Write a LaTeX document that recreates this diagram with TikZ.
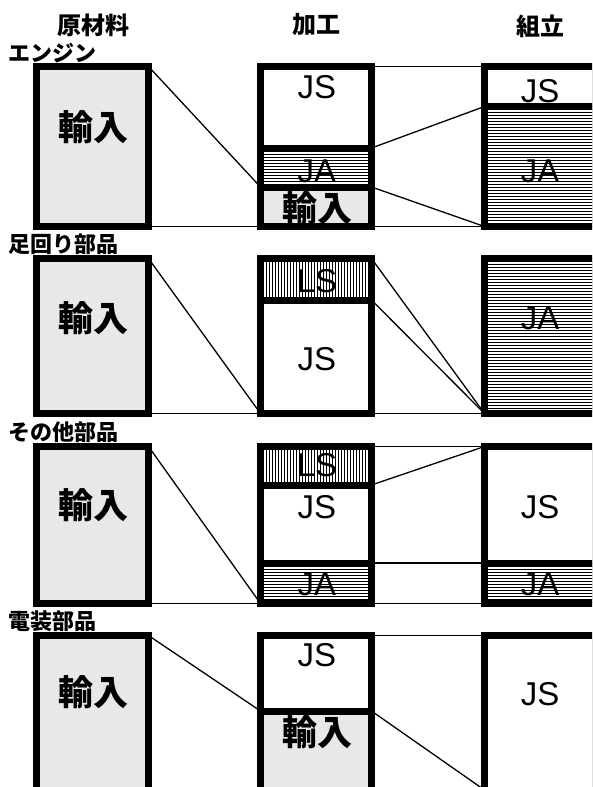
\documentclass[tikz,border=0pt]{standalone}
\usepackage{fontspec}
\setmainfont{Liberation Sans}
\newfontfamily\jpfont{Noto Sans CJK JP}

\tikzset{
  frame/.style={draw=black, line width=7pt},
  link/.style={draw=black, line width=1.3pt},
  imp/.style={fill=black!9},
  rule/.style={draw=black, line width=1pt},
  lat/.style={font=\fontsize{33}{33}\selectfont, inner sep=0pt},
  kanji/.style={font=\jpfont\bfseries\fontsize{35}{35}\selectfont, inner sep=0pt},
  head/.style={font=\jpfont\bfseries\fontsize{24}{24}\selectfont, inner sep=0pt},
  cat/.style={font=\jpfont\bfseries\fontsize{22}{22}\selectfont, inner sep=0pt, anchor=south west},
}

% horizontal hatching (JA) inside a rectangle, 3pt pitch
\newcommand\hhatch[4]{%
  \begin{scope}
    \clip (#1,#2) rectangle (#3,#4);
    \foreach \k in {0,...,70}
      \draw[rule] (#1,{floor(#2)+0.5+3*\k}) -- (#3,{floor(#2)+0.5+3*\k});
  \end{scope}}
% vertical hatching (LS) inside a rectangle, 3pt pitch
\newcommand\vhatch[4]{%
  \begin{scope}
    \clip (#1,#2) rectangle (#3,#4);
    \foreach \k in {0,...,40}
      \draw[rule] ({floor(#1)+0.5+3*\k},#2) -- ({floor(#1)+0.5+3*\k},#4);
  \end{scope}}

\begin{document}
\begin{tikzpicture}[x=1pt,y=-1pt]
\useasboundingbox (0,0) rectangle (592,787);
\clip (0,0) rectangle (592,787);
\fill[white] (0,0) rectangle (592,787);

% ---------- column headings ----------
\node[head] (h1) at (93,25) {原材料};
\node[head] (h2) at (316,25) {加工};
\node[head] (h3) at (540,26) {組立};

% ---------- category labels ----------
\node[cat] (g1) at (8,63) {エンジン};
\node[cat] (g2) at (8,255) {足回り部品};
\node[cat] (g3) at (8,443) {その他部品};
\node[cat] (g4) at (8,632) {電装部品};

% ---------- fills ----------
% engine
\fill[imp] (36.5,66.5) rectangle (148.5,226.5);
\hhatch{260.5}{148}{371.5}{187}
\fill[imp] (260.5,187) rectangle (371.5,226.5);
\hhatch{484.5}{106.5}{595.5}{226.5}
% chassis parts
\fill[imp] (36.5,258.5) rectangle (148.5,413.5);
\vhatch{260.5}{258.5}{371.5}{300}
\hhatch{484.5}{258.5}{595.5}{413.5}
% other parts
\fill[imp] (36.5,446.5) rectangle (148.5,603.5);
\vhatch{260.5}{446.5}{371.5}{485}
\hhatch{260.5}{563}{371.5}{603.5}
\hhatch{484.5}{563}{595.5}{603.5}
% electrical parts
\fill[imp] (36.5,635.5) rectangle (148.5,800);
\fill[imp] (260.5,711) rectangle (371.5,800);

% ---------- share boundaries ----------
% engine
\coordinate (a1t) at (148.5,66.5);  \coordinate (a1b) at (148.5,226.5);
\coordinate (b1m) at (260.5,187);   \coordinate (b1b) at (260.5,226.5);
\coordinate (c1t) at (371.5,66.5);  \coordinate (c1u) at (371.5,148);  \coordinate (c1m) at (371.5,187);  \coordinate (c1b) at (371.5,226.5);
\coordinate (d1t) at (484.5,66.5);  \coordinate (d1u) at (484.5,106.5); \coordinate (d1b) at (484.5,226.5);
\draw[link] (a1t) -- (b1m);
\draw[link] (a1b) -- (b1b);
\draw[link] (c1t) -- (d1t);
\draw[link] (c1u) -- (d1u);
\draw[link] (c1m) -- (d1b);
\draw[link] (c1b) -- (d1b);
% chassis parts
\coordinate (a2t) at (148.5,258.5); \coordinate (a2b) at (148.5,413.5);
\coordinate (b2b) at (260.5,413.5);
\coordinate (c2t) at (371.5,258.5); \coordinate (c2u) at (371.5,300);  \coordinate (c2b) at (371.5,413.5);
\coordinate (d2b) at (484.5,413.5);
\draw[link] (a2t) -- (b2b);
\draw[link] (a2b) -- (b2b);
\draw[link] (c2t) -- (d2b);
\draw[link] (c2u) -- (d2b);
\draw[link] (c2b) -- (d2b);
% other parts
\coordinate (a3t) at (148.5,446.5); \coordinate (a3b) at (148.5,603.5);
\coordinate (b3b) at (260.5,603.5);
\coordinate (c3t) at (371.5,446.5); \coordinate (c3u) at (371.5,485);  \coordinate (c3m) at (371.5,563);  \coordinate (c3b) at (371.5,603.5);
\coordinate (d3t) at (484.5,446.5); \coordinate (d3m) at (484.5,563);  \coordinate (d3b) at (484.5,603.5);
\draw[link] (a3t) -- (b3b);
\draw[link] (a3b) -- (b3b);
\draw[link] (c3t) -- (d3t);
\draw[link] (c3u) -- (d3t);
\draw[link] (c3m) -- (d3m);
\draw[link] (c3b) -- (d3b);
% electrical parts
\coordinate (a4t) at (148.5,635.5);
\coordinate (b4m) at (260.5,711);
\coordinate (c4t) at (371.5,635.5); \coordinate (c4m) at (371.5,711);
\coordinate (d4t) at (484.5,635.5); \coordinate (d4b) at (484.5,790);
\draw[link] (a4t) -- (b4m);
\draw[link] (c4t) -- (d4t);
\draw[link] (c4m) -- (d4b);

% ---------- frames ----------
% engine
\draw[frame] (36.5,66.5) rectangle (148.5,226.5);
\draw[frame] (260.5,66.5) rectangle (371.5,226.5);
\draw[frame] (260.5,148) -- (371.5,148);
\draw[frame] (260.5,187) -- (371.5,187);
\draw[frame] (484.5,66.5) rectangle (595.5,226.5);
\draw[frame] (484.5,106.5) -- (595.5,106.5);
% chassis parts
\draw[frame] (36.5,258.5) rectangle (148.5,413.5);
\draw[frame] (260.5,258.5) rectangle (371.5,413.5);
\draw[frame] (260.5,300) -- (371.5,300);
\draw[frame] (484.5,258.5) rectangle (595.5,413.5);
% other parts
\draw[frame] (36.5,446.5) rectangle (148.5,603.5);
\draw[frame] (260.5,446.5) rectangle (371.5,603.5);
\draw[frame] (260.5,485) -- (371.5,485);
\draw[frame] (260.5,563) -- (371.5,563);
\draw[frame] (484.5,446.5) rectangle (595.5,603.5);
\draw[frame] (484.5,563) -- (595.5,563);
% electrical parts
\draw[frame] (36.5,635.5) rectangle (148.5,800);
\draw[frame] (260.5,635.5) rectangle (371.5,800);
\draw[frame] (260.5,711) -- (371.5,711);
\draw[frame] (484.5,635.5) rectangle (595.5,800);

% ---------- segment labels ----------
% engine
\node[kanji] (t11) at (93,127) {輸入};
\node[lat]   (t12) at (317,87) {JS};
\node[lat]   (t13) at (317,171) {JA};
\node[kanji] (t14) at (317,208) {輸入};
\node[lat]   (t15) at (540,91) {JS};
\node[lat]   (t16) at (540,171) {JA};
% chassis parts
\node[kanji] (t21) at (93,318) {輸入};
\node[lat]   (t22) at (317,281) {LS};
\node[lat]   (t23) at (317,359) {JS};
\node[lat]   (t24) at (540,318) {JA};
% other parts
\node[kanji] (t31) at (93,505) {輸入};
\node[lat]   (t32) at (317,465) {LS};
\node[lat]   (t33) at (317,507) {JS};
\node[lat]   (t34) at (317,584) {JA};
\node[lat]   (t35) at (540,507) {JS};
\node[lat]   (t36) at (540,584) {JA};
% electrical parts
\node[kanji] (t41) at (93,692) {輸入};
\node[lat]   (t42) at (317,655) {JS};
\node[kanji] (t43) at (317,732) {輸入};
\node[lat]   (t44) at (540,694) {JS};
\end{tikzpicture}
\end{document}
